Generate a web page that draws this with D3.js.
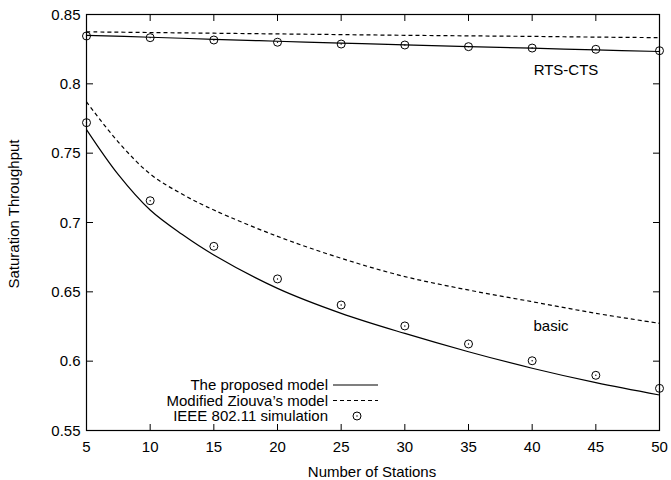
<!DOCTYPE html>
<html>
<head>
<meta charset="utf-8">
<script src="https://cdn.jsdelivr.net/npm/d3@7"></script>
<style>
	body { margin: 0; background: #fff; }
	text { font-family: "Liberation Sans", Arial, sans-serif; fill: #000; }
</style>
</head>
<body>
<div id="chart"></div>
<script>
// number of stations for the simulation points and RTS-CTS curves
var stations = [5, 10, 15, 20, 25, 30, 35, 40, 45, 50];

// the basic model curves are read a little denser where they bend
var basicStations = [5, 7.5, 10, 12.5, 15, 20, 25, 30, 35, 40, 45, 50];
var basicProposed = [0.767, 0.7345, 0.709, 0.6915, 0.6766, 0.6525, 0.6345, 0.620, 0.6068, 0.5949, 0.5845, 0.5756];
var basicZiouva = [0.787, 0.758, 0.735, 0.7205, 0.709, 0.690, 0.6742, 0.661, 0.6513, 0.6429, 0.6345, 0.6273];
var basicSim = [0.772, 0.7157, 0.6828, 0.6593, 0.6405, 0.6254, 0.6124, 0.6003, 0.5898, 0.5804];

// RTS-CTS curves
var rtsProposed = [0.8350, 0.8336, 0.8321, 0.8307, 0.8294, 0.8281, 0.8269, 0.8257, 0.8245, 0.8233];
var rtsZiouva = [0.8375, 0.8370, 0.8365, 0.8360, 0.8355, 0.8350, 0.8346, 0.8342, 0.8337, 0.8333];
var rtsSim = [0.8345, 0.8333, 0.8316, 0.8300, 0.8287, 0.8280, 0.8268, 0.8258, 0.8249, 0.8239];

// tick labels
var xTicks = [5, 10, 15, 20, 25, 30, 35, 40, 45, 50];
var yTicks = [0.55, 0.6, 0.65, 0.7, 0.75, 0.8, 0.85];

var legendLabels = ["The proposed model", "Modified Ziouva\u2019s model", "IEEE 802.11 simulation"];

var width = 671, height = 480;
var plotLeft = 86.5, plotRight = 659.5, plotTop = 14.5, plotBottom = 430.5;
var fontSize = "15px";
var tickLen = 6.5;

var svg = d3.select("#chart").append("svg")
	.attr("width", width)
	.attr("height", height);

var x = d3.scaleLinear().domain([5, 50]).range([plotLeft, plotRight]);
var y = d3.scaleLinear().domain([0.55, 0.85]).range([plotBottom, plotTop]);

// inward ticks on all four sides, gnuplot style
var g = svg.append("g");
xTicks.forEach(function (t) {
	g.append("line").attr("x1", x(t)).attr("x2", x(t)).attr("y1", plotBottom).attr("y2", plotBottom - tickLen);
	g.append("line").attr("x1", x(t)).attr("x2", x(t)).attr("y1", plotTop).attr("y2", plotTop + tickLen);
	svg.append("text")
		.attr("x", x(t)).attr("y", plotBottom + 16)
		.attr("dy", ".35em")
		.attr("text-anchor", "middle")
		.attr("font-size", fontSize)
		.text(t);
});
yTicks.forEach(function (t) {
	g.append("line").attr("x1", plotLeft).attr("x2", plotLeft + tickLen).attr("y1", y(t)).attr("y2", y(t));
	g.append("line").attr("x1", plotRight).attr("x2", plotRight - tickLen).attr("y1", y(t)).attr("y2", y(t));
	svg.append("text")
		.attr("x", plotLeft - 6).attr("y", y(t))
		.attr("dy", ".35em")
		.attr("text-anchor", "end")
		.attr("font-size", fontSize)
		.text(d3.format("")(t));
});
g.selectAll("line").attr("stroke", "#000").attr("stroke-width", 1);

// frame
svg.append("rect")
	.attr("x", plotLeft).attr("y", plotTop)
	.attr("width", plotRight - plotLeft).attr("height", plotBottom - plotTop)
	.attr("fill", "none").attr("stroke", "#000").attr("stroke-width", 1.2);

// axis titles
svg.append("text")
	.attr("x", 372).attr("y", 472)
	.attr("dy", ".35em")
	.attr("text-anchor", "middle")
	.attr("font-size", fontSize)
	.text("Number of Stations");

svg.append("text")
	.attr("transform", "translate(14,214) rotate(-90)")
	.attr("dy", ".35em")
	.attr("text-anchor", "middle")
	.attr("font-size", fontSize)
	.text("Saturation Throughput");

// curves (smooth through the read points)
var line = d3.line()
	.x(function (d) { return x(d[0]); })
	.y(function (d) { return y(d[1]); })
	.curve(d3.curveCatmullRom.alpha(0.5));

function drawCurve(xs, values, dashed)
{
	svg.append("path")
		.datum(d3.zip(xs, values))
		.attr("d", line)
		.attr("fill", "none")
		.attr("stroke", "#000")
		.attr("stroke-width", 1.2)
		.attr("stroke-dasharray", dashed ? "4,3" : null);
}

function drawMarker(cx, cy)
{
	svg.append("circle").attr("cx", cx).attr("cy", cy).attr("r", 4)
		.attr("fill", "none").attr("stroke", "#000").attr("stroke-width", 1);
	svg.append("circle").attr("cx", cx).attr("cy", cy).attr("r", 0.7)
		.attr("fill", "#000");
}

drawCurve(basicStations, basicZiouva, true);
drawCurve(basicStations, basicProposed, false);
drawCurve(stations, rtsZiouva, true);
drawCurve(stations, rtsProposed, false);

d3.zip(stations, basicSim).forEach(function (d) { drawMarker(x(d[0]), y(d[1])); });
d3.zip(stations, rtsSim).forEach(function (d) { drawMarker(x(d[0]), y(d[1])); });

// curve annotations
svg.append("text")
	.attr("x", 566).attr("y", 70)
	.attr("dy", ".35em")
	.attr("text-anchor", "middle")
	.attr("font-size", fontSize)
	.text("RTS-CTS");

svg.append("text")
	.attr("x", 551).attr("y", 326)
	.attr("dy", ".35em")
	.attr("text-anchor", "middle")
	.attr("font-size", fontSize)
	.text("basic");

// legend
var legendY = [385, 400.5, 416];
legendLabels.forEach(function (label, i) {
	svg.append("text")
		.attr("x", 328).attr("y", legendY[i])
		.attr("dy", ".35em")
		.attr("text-anchor", "end")
		.attr("font-size", fontSize)
		.text(label);
});
svg.append("line")
	.attr("x1", 333).attr("x2", 378).attr("y1", legendY[0]).attr("y2", legendY[0])
	.attr("stroke", "#000").attr("stroke-width", 1.2);
svg.append("line")
	.attr("x1", 333).attr("x2", 378).attr("y1", legendY[1]).attr("y2", legendY[1])
	.attr("stroke", "#000").attr("stroke-width", 1.2)
	.attr("stroke-dasharray", "4,3");
drawMarker(357, legendY[2]);
</script>
</body>
</html>
